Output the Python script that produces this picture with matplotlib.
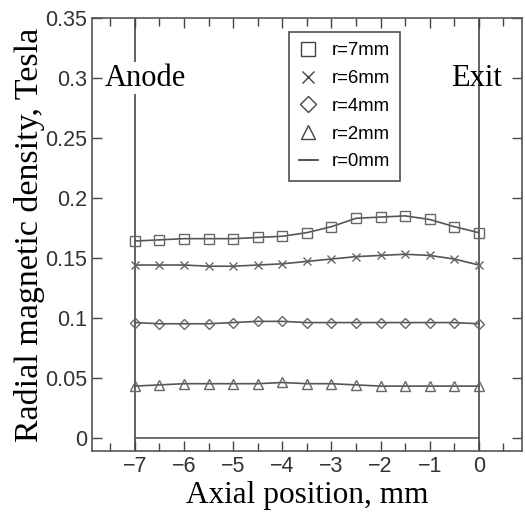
import matplotlib.pyplot as plt
import numpy as np

# axial positions (mm), anode at -7, exit at 0
axial = [-7, -6.5, -6, -5.5, -5, -4.5, -4, -3.5, -3, -2.5, -2, -1.5, -1, -0.5, 0]

b_r7 = [0.164, 0.165, 0.166, 0.166, 0.166, 0.167, 0.168, 0.171, 0.176, 0.183,
        0.184, 0.185, 0.182, 0.176, 0.171]
b_r6 = [0.144, 0.144, 0.144, 0.143, 0.143, 0.144, 0.145, 0.147, 0.149, 0.151,
        0.152, 0.153, 0.152, 0.149, 0.144]
b_r4 = [0.096, 0.095, 0.095, 0.095, 0.096, 0.097, 0.097, 0.096, 0.096, 0.096,
        0.096, 0.096, 0.096, 0.096, 0.095]
b_r2 = [0.043, 0.044, 0.045, 0.045, 0.045, 0.045, 0.046, 0.045, 0.045, 0.044,
        0.043, 0.043, 0.043, 0.043, 0.043]
b_r0 = [0.0] * len(axial)

series = [
    ("r=7mm", b_r7, "s", 6.5),
    ("r=6mm", b_r6, "x", 5.5),
    ("r=4mm", b_r4, "D", 5.2),
    ("r=2mm", b_r2, "^", 7.0),
    ("r=0mm", b_r0, None, 0),
]

LINE = "#555555"
SERIF = "Liberation Serif"
SANS = "Liberation Sans"

fig = plt.figure(figsize=(5.25, 5.17), dpi=100)
ax = fig.add_axes([0.175, 0.128, 0.819, 0.837])

for label, vals, marker, ms in series:
    if marker is None:
        ax.plot(axial, vals, "-", color=LINE, lw=1.2, label=label)
    else:
        ax.plot(axial, vals, "-", color=LINE, lw=1.2, marker=marker, ms=ms,
                mfc="none", mec="#666666", mew=1.0, label=label)

ax.axvline(-7, color=LINE, lw=1.3, zorder=1)
ax.axvline(0, color=LINE, lw=1.3, zorder=1)

ax.text(-6.78, 0.30, "Anode", family=SERIF, fontsize=22, ha="center", va="center",
        bbox=dict(facecolor="white", edgecolor="none", pad=1))
ax.text(-0.05, 0.30, "Exit", family=SERIF, fontsize=22, ha="center", va="center")

ax.set_xlim(-7.875, 0.875)
ax.set_ylim(-0.011, 0.35)
ax.set_xticks(np.arange(-7, 1, 1))
ax.set_xticks(np.arange(-7.5, 1, 0.5), minor=True)
ax.set_yticks(np.arange(0, 0.351, 0.05))
ax.set_yticklabels(["0", "0.05", "0.1", "0.15", "0.2", "0.25", "0.3", "0.35"])
ax.tick_params(axis="both", which="both", direction="in", top=True, right=True,
               colors="#444444", labelcolor="#333333", labelsize=15.5, width=1)
ax.tick_params(axis="both", which="major", length=7)
ax.tick_params(axis="x", which="minor", length=6)
for lab in ax.get_xticklabels() + ax.get_yticklabels():
    lab.set_family(SANS)
ax.xaxis.set_major_formatter(plt.FuncFormatter(lambda v, p: f"{v:g}".replace("-", "\u2212")))

for sp in ax.spines.values():
    sp.set_color("#555555")
    sp.set_linewidth(1.2)

ax.set_xlabel("Axial position, mm", family=SERIF, fontsize=22.5, labelpad=3)
ax.set_ylabel("Radial magnetic density, Tesla", family=SERIF, fontsize=24.5, labelpad=0)

leg = ax.legend(loc="upper left", bbox_to_anchor=(0.458, 0.968), borderaxespad=0,
                frameon=True, fancybox=False, markerscale=1.5, handlelength=1.0,
                prop={"family": SANS, "size": 13.4}, labelspacing=0.58,
                borderpad=0.55, handletextpad=0.75)
leg.get_frame().set_edgecolor("#222222")
leg.get_frame().set_linewidth(1.2)
for h in leg.legend_handles:
    if h.get_label() == "r=0mm":
        h.set_color("#333333")
    else:
        h.set_linestyle("none")
        h.set_markeredgecolor("#444444")

fig.savefig("out.png", dpi=100)
